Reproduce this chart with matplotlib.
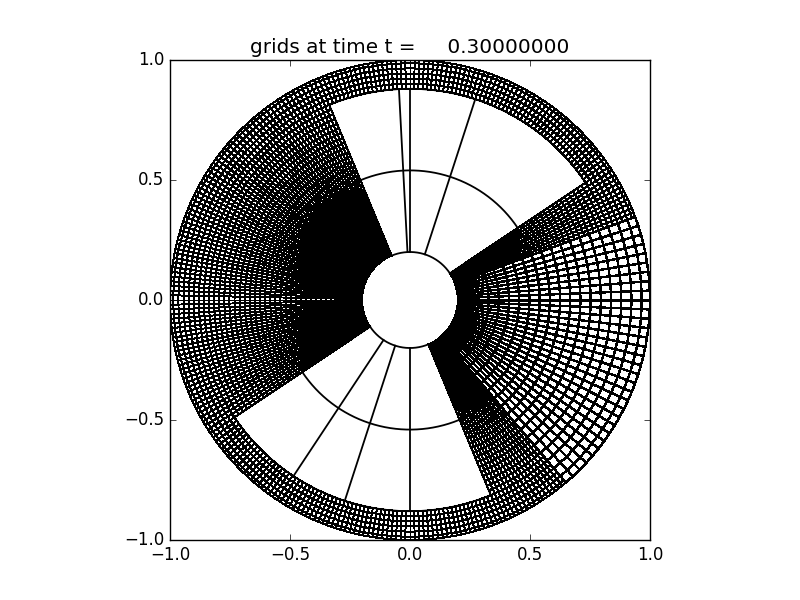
import numpy as np
import matplotlib
matplotlib.use('Agg')
import matplotlib.pyplot as plt

# Grid line positions: radii and angles (degrees)
coarse_radii = [0.2, 0.54, 0.88]
coarse_top_angles = [33.75, 72.0, 90.0, 93.0, 112.5]
coarse_bottom_angles = [213.75, 236.5, 252.0, 270.0, 292.5]

medium_radii = [0.2, 0.2425, 0.285, 0.3275, 0.37, 0.4125, 0.455, 0.4975, 0.54,
                0.5825, 0.625, 0.6675, 0.71, 0.7525, 0.795, 0.8375, 0.88,
                0.9225, 0.965, 1.0]
medium_angles = [-49.5, -47.25, -45.0, -42.75, -40.5, -38.25, -36.0, -33.75,
                 -31.5, -29.25, -27.0, -24.75, -22.5, -20.25, -18.0, -15.75,
                 -13.5, -11.25, -9.0, -6.75, -4.5, -2.25, 0.0, 2.25,
                 4.5, 6.75, 9.0, 11.25, 13.5, 15.75, 18.0, 20.25]

fine_radii = [0.2, 0.22125, 0.2425, 0.26375, 0.285, 0.30625, 0.3275, 0.34875,
              0.37, 0.39125, 0.4125, 0.43375, 0.455, 0.47625, 0.4975, 0.51875,
              0.54, 0.56125, 0.5825, 0.60375, 0.625, 0.64625, 0.6675, 0.68875,
              0.71, 0.73125, 0.7525, 0.77375, 0.795, 0.81625, 0.8375, 0.85875,
              0.88, 0.90125, 0.9225, 0.94375, 0.965, 0.98625, 1.0]
fine_angles = [
    20.25, 21.375, 22.5, 23.625, 24.75, 25.875,
    27.0, 28.125, 29.25, 30.375, 31.5, 32.625, 33.75, 34.875,
    36.0, 37.125, 38.25, 39.375, 40.5, 41.625, 42.75, 43.875,
    45.0, 46.125, 47.25, 48.375, 49.5, 50.625, 51.75, 52.875,
    54.0, 55.125, 56.25, 57.375, 58.5, 59.625, 60.75, 61.875,
    63.0, 64.125, 65.25, 66.375, 67.5, 68.625, 69.75, 70.875,
    72.0, 73.125, 74.25, 75.375, 76.5, 77.625, 78.75, 79.875,
    81.0, 82.125, 83.25, 84.375, 85.5, 86.625, 87.75, 88.875,
    90.0, 91.125, 92.25, 93.375, 94.5, 95.625, 96.75, 97.875,
    99.0, 100.125, 101.25, 102.375, 103.5, 104.625, 105.75, 106.875,
    108.0, 109.125, 110.25, 111.375, 112.5, 113.625, 114.75, 115.875,
    117.0, 118.125, 119.25, 120.375, 121.5, 122.625, 123.75, 124.875,
    126.0, 127.125, 128.25, 129.375, 130.5, 131.625, 132.75, 133.875,
    135.0, 136.125, 137.25, 138.375, 139.5, 140.625, 141.75, 142.875,
    144.0, 145.125, 146.25, 147.375, 148.5, 149.625, 150.75, 151.875,
    153.0, 154.125, 155.25, 156.375, 157.5, 158.625, 159.75, 160.875,
    162.0, 163.125, 164.25, 165.375, 166.5, 167.625, 168.75, 169.875,
    171.0, 172.125, 173.25, 174.375, 175.5, 176.625, 177.75, 178.875,
    180.0, 181.125, 182.25, 183.375, 184.5, 185.625, 186.75, 187.875,
    189.0, 190.125, 191.25, 192.375, 193.5, 194.625, 195.75, 196.875,
    198.0, 199.125, 200.25, 201.375, 202.5, 203.625, 204.75, 205.875,
    207.0, 208.125, 209.25, 210.375, 211.5, 212.625, 213.75, 214.875,
    216.0, 217.125, 218.25, 219.375, 220.5, 221.625, 222.75, 223.875,
    225.0, 226.125, 227.25, 228.375, 229.5, 230.625, 231.75, 232.875,
    234.0, 235.125, 236.25, 237.375, 238.5, 239.625, 240.75, 241.875,
    243.0, 244.125, 245.25, 246.375, 247.5, 248.625, 249.75, 250.875,
    252.0, 253.125, 254.25, 255.375, 256.5, 257.625, 258.75, 259.875,
    261.0, 262.125, 263.25, 264.375, 265.5, 266.625, 267.75, 268.875,
    270.0, 271.125, 272.25, 273.375, 274.5, 275.625, 276.75, 277.875,
    279.0, 280.125, 281.25, 282.375, 283.5, 284.625, 285.75, 286.875,
    288.0, 289.125, 290.25, 291.375, 292.5, 293.625, 294.75, 295.875,
    297.0, 298.125, 299.25, 300.375, 301.5, 302.625, 303.75, 304.875,
    306.0, 307.125, 308.25, 309.375, 310.5]

# Patches of the fine level: (r from, r to, angle from, angle to)
fine_patches = [(0.2, 1.0, 20.25, 33.75),
                (0.2, 1.0, 112.5, 213.75),
                (0.2, 1.0, 292.5, 310.5),
                (0.88, 1.0, 33.75, 112.5),
                (0.88, 1.0, 213.75, 292.5)]

title_text = 'grids at time t =     0.30000000'
tick_values = [-1.0, -0.5, 0.0, 0.5, 1.0]


def draw_patch(ax, radii, angles, lw, aa):
    # one polar patch: arcs at constant r, spokes at constant angle
    start, stop = np.radians(angles[0]), np.radians(angles[-1])
    arc = np.linspace(start, stop, 200)
    for r in radii:
        ax.plot(r * np.cos(arc), r * np.sin(arc), 'k-', lw=lw, antialiased=aa)
    for a in np.radians(angles):
        ax.plot([radii[0] * np.cos(a), radii[-1] * np.cos(a)],
                [radii[0] * np.sin(a), radii[-1] * np.sin(a)], 'k-', lw=lw,
                antialiased=aa)


plt.style.use('classic')
plt.rcParams['savefig.facecolor'] = 'white'

fig, ax = plt.subplots(figsize=(8, 6), dpi=100, facecolor='white')

draw_patch(ax, coarse_radii, coarse_top_angles, 1.3, True)
draw_patch(ax, coarse_radii, coarse_bottom_angles, 1.3, True)
draw_patch(ax, medium_radii, medium_angles, 1.0, False)
for r0, r1, a0, a1 in fine_patches:
    draw_patch(ax, [r for r in fine_radii if r0 <= r <= r1],
               [a for a in fine_angles if a0 <= a <= a1], 0.7, False)

ax.set_aspect('equal')
ax.set_xlim(-1, 1)
ax.set_ylim(-1, 1)
ax.set_xticks(tick_values)
ax.set_yticks(tick_values)
ax.set_title(title_text)

plt.savefig('out.png', dpi=100)
